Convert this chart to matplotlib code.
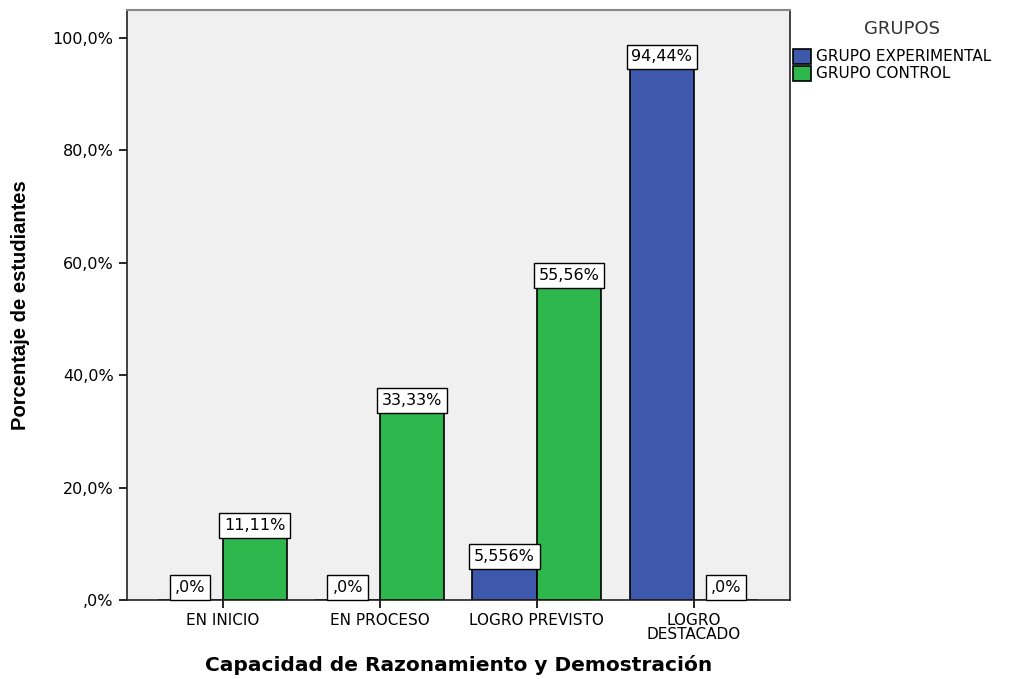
import matplotlib
matplotlib.use('Agg')
import matplotlib.pyplot as plt
import numpy as np

plt.rcParams['font.family'] = ['DejaVu Sans']

# Categorias y porcentajes por grupo
categorias = ['EN INICIO', 'EN PROCESO', 'LOGRO PREVISTO', 'LOGRO\nDESTACADO']
experimental = [0.0, 0.0, 5.556, 94.44]
control = [11.11, 33.33, 55.56, 0.0]
etiq_exp = [',0%', ',0%', '5,556%', '94,44%']
etiq_ctrl = ['11,11%', '33,33%', '55,56%', ',0%']
grupos = ['GRUPO EXPERIMENTAL', 'GRUPO CONTROL']
colores = ['#3e58ac', '#2eb74c']

fig = plt.figure(figsize=(10.14, 6.79), dpi=100)
ax = fig.add_axes([0.125, 0.1163, 0.654, 0.869])
ax.set_facecolor('#f0f0f0')

x = np.arange(len(categorias))
w = 0.41
b1 = ax.bar(x - w / 2, experimental, w, color=colores[0], edgecolor='black', linewidth=1.2)
b2 = ax.bar(x + w / 2, control, w, color=colores[1], edgecolor='black', linewidth=1.2)

# etiquetas con recuadro blanco apoyadas sobre cada barra
caja = dict(boxstyle='square,pad=0.3', facecolor='white', edgecolor='black', linewidth=1)
for barras, textos in ((b1, etiq_exp), (b2, etiq_ctrl)):
    for b, t in zip(barras, textos):
        ax.annotate(t, (b.get_x() + b.get_width() / 2, b.get_height()),
                    xytext=(0, 3.5), textcoords='offset points', ha='center', va='bottom',
                    fontsize=11.5, bbox=caja)

ax.set_xlim(-0.61, 3.61)
ax.set_ylim(0, 105)
ax.set_xticks(x)
ax.set_xticklabels(categorias, fontsize=11, linespacing=0.9)
ax.set_yticks(np.arange(0, 101, 20))
ax.set_yticklabels([',0%', '20,0%', '40,0%', '60,0%', '80,0%', '100,0%'], fontsize=11.5)
ax.tick_params(direction='out', length=6, width=1.2, colors='black')

for s in ('left', 'right', 'bottom'):
    ax.spines[s].set_linewidth(1.2)
    ax.spines[s].set_color('#222222')
ax.spines['top'].set_color('#888888')
ax.spines['top'].set_linewidth(1.5)

ax.set_ylabel('Porcentaje de estudiantes', fontsize=14.5, fontweight='bold', labelpad=16,
              family='Liberation Sans')
ax.set_xlabel('Capacidad de Razonamiento y Demostración', fontsize=14.5, fontweight='bold',
              labelpad=9)

# leyenda a la derecha con su titulo aparte
fig.text(902 / 1014, 1 - 29 / 679, 'GRUPOS', ha='center', va='center',
         fontsize=13, color='#333333')
fig.legend([b1, b2], grupos, loc='upper left',
           bbox_to_anchor=(0.782, 0.928), frameon=False, fontsize=11,
           handlelength=1.2, handleheight=1.1,
           handletextpad=0.3, labelspacing=0.1, borderaxespad=0, borderpad=0)

fig.savefig('out.png', dpi=100)
